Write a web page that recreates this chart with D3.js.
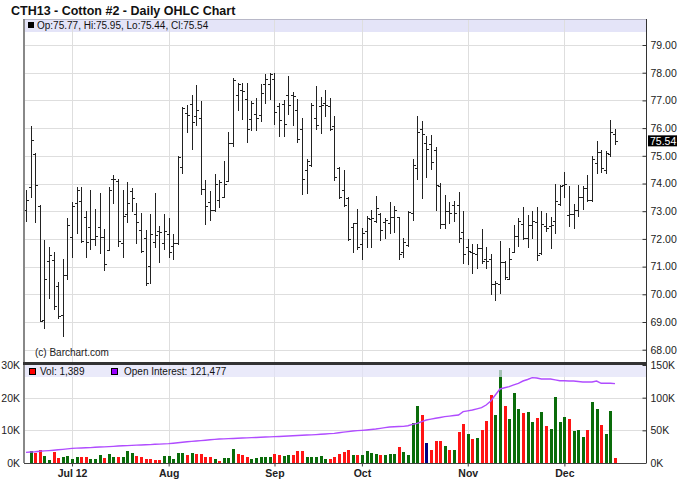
<!DOCTYPE html>
<html><head><meta charset="utf-8">
<script src="https://cdn.jsdelivr.net/npm/d3@7"></script>
<style>
html,body{margin:0;padding:0;background:#fff;}
svg{display:block;font-family:"Liberation Sans",Arial,Helvetica,sans-serif;}
</style></head><body>
<svg id="c" width="688" height="503"></svg>
<script>
// ---- data ----
const openP = [
 73.05,73.86,75.05,73.20,69.06,71.20,71.23,70.30,69.25,70.69,
 72.07,73.31,73.37,72.80,72.43,72.00,72.43,72.07,71.59,74.18,
 74.10,71.84,72.89,73.73,72.89,72.31,72.02,71.02,71.89,72.30,
 71.84,72.17,71.74,71.85,74.61,76.55,76.88,76.42,76.37,73.81,
 73.33,73.05,73.39,73.50,74.08,75.46,77.18,77.39,77.06,76.34,
 76.52,76.46,77.58,77.60,77.76,76.78,76.86,77.20,77.18,76.64,
 75.98,74.49,74.65,76.37,76.80,76.90,76.80,76.06,74.55,73.77,
 73.47,72.42,72.57,71.82,72.27,72.71,72.66,72.90,72.60,72.57,
 72.80,72.78,71.54,71.78,72.93,74.57,75.95,75.46,75.42,75.22,
 73.92,72.53,72.99,73.23,73.23,72.24,71.70,71.54,71.47,71.66,
 71.27,71.27,70.36,70.38,71.18,70.54,71.51,72.11,72.53,72.05,
 72.50,72.62,71.50,72.47,72.47,72.65,73.26,73.96,72.87,72.90,
 73.04,73.52,73.84,73.40,74.74,75.13,74.49,75.05,75.77];
const highP = [
 73.75,76.08,75.10,73.22,71.96,71.72,71.54,70.46,71.27,72.75,
 73.34,73.86,73.88,73.01,73.76,73.07,73.65,72.35,73.89,74.31,
 74.16,73.77,74.04,73.83,73.29,72.93,72.33,72.89,73.64,72.47,
 72.89,72.75,72.16,75.00,76.76,76.84,77.20,77.57,76.98,74.13,
 73.72,74.33,74.11,74.83,75.86,77.82,77.63,77.63,77.63,76.98,
 77.10,77.60,77.94,78.00,78.00,76.90,77.00,77.88,77.30,77.06,
 76.37,74.89,76.90,77.52,77.14,77.36,77.08,76.42,74.60,74.48,
 73.53,72.59,73.08,72.39,72.81,73.05,73.55,72.93,72.75,73.35,
 73.20,72.78,72.02,73.02,74.88,76.42,76.24,75.72,75.76,75.31,
 74.01,73.57,73.35,73.37,73.71,72.99,71.99,71.82,71.83,72.35,
 71.71,71.45,70.48,71.93,71.20,71.66,72.51,72.75,73.14,72.87,
 72.99,73.14,72.99,72.93,72.80,74.00,73.96,74.43,73.92,73.26,
 73.96,73.92,74.32,75.00,75.53,75.21,75.19,76.28,75.95];
const lowP = [
 72.65,73.52,72.60,69.04,68.80,69.88,69.46,69.13,68.49,70.54,
 71.35,72.23,71.90,71.33,71.63,71.78,71.48,70.87,71.59,73.28,
 71.75,71.36,72.61,73.01,71.84,71.53,70.34,70.40,71.71,71.18,
 71.63,71.36,71.29,71.80,74.37,75.86,75.23,76.10,73.63,72.54,
 72.69,73.02,73.14,73.50,74.08,75.37,76.64,76.34,75.49,75.92,
 75.92,76.25,76.90,77.04,76.16,75.73,75.71,76.52,76.12,75.49,
 73.63,73.65,74.63,75.98,75.82,76.42,75.92,74.13,73.47,73.20,
 71.96,71.54,71.63,71.28,71.72,71.69,72.62,71.96,72.02,72.23,
 72.26,71.27,71.36,71.75,72.68,74.16,73.47,74.25,74.53,73.05,
 72.39,72.41,72.59,72.63,71.90,71.12,71.10,70.78,70.94,71.14,
 70.94,70.00,69.78,70.06,70.54,70.54,71.51,71.75,71.99,71.71,
 72.05,71.24,71.45,72.29,71.66,72.23,73.23,73.52,72.47,72.41,
 72.84,73.08,73.36,73.36,74.38,74.41,74.37,75.00,75.44];
const closeP = [
 73.40,75.58,73.95,69.05,70.54,71.42,69.58,69.20,70.69,72.49,
 73.17,73.77,71.93,71.90,71.99,72.10,72.07,71.08,73.77,74.15,
 71.93,72.83,73.31,73.46,72.61,71.57,70.40,72.17,72.13,72.25,
 72.29,71.51,71.85,74.95,76.72,76.49,76.22,76.66,73.81,73.20,
 73.05,73.99,74.05,74.00,75.47,77.75,77.60,77.35,75.98,76.92,
 76.36,77.27,77.76,77.96,76.58,76.30,76.13,76.82,77.15,75.61,
 74.17,74.83,76.82,76.10,76.85,76.84,75.95,74.25,73.53,73.23,
 71.99,72.57,71.72,72.20,72.75,72.75,73.10,72.32,72.70,72.78,
 73.05,71.45,71.90,72.98,74.67,75.86,75.80,75.24,74.77,73.95,
 72.53,73.01,72.93,72.93,72.02,71.45,71.58,71.50,71.66,71.20,
 71.22,70.36,70.42,71.18,70.63,71.27,72.11,72.65,72.05,72.50,
 72.65,71.42,72.55,72.40,72.50,73.38,73.92,74.00,72.90,73.04,
 73.52,73.84,73.40,74.89,75.13,74.56,75.09,75.86,75.54];
// daily volume in thousands of contracts (first day not shown)
const volumeK = [
 null,3.74,2.93,4.04,2.02,1.00,3.43,1.41,1.72,2.22,
 1.31,1.92,1.72,1.72,1.31,1.31,2.32,1.62,2.63,1.72,
 1.72,1.72,3.74,3.13,2.02,1.72,1.31,1.31,1.00,1.00,
 2.22,2.22,1.31,3.13,3.13,2.32,3.13,2.63,2.83,1.92,
 1.92,1.31,0.61,1.52,1.52,4.34,2.63,2.32,1.92,1.21,
 1.52,1.72,1.92,1.82,2.73,2.32,2.02,2.53,2.32,3.54,
 3.74,1.92,1.92,1.72,2.02,1.31,1.31,1.92,2.83,3.43,
 4.04,2.53,2.32,2.32,3.74,3.13,2.83,2.32,2.53,2.83,
 2.83,4.95,3.33,2.53,12.1,17.5,14.8,6.06,4.04,6.77,
 6.77,5.35,4.04,4.04,9.39,11.8,8.89,7.37,7.78,10.0,
 13.0,20.7,14.8,28.4,17.5,13.6,21.3,16.4,15.4,15.7,
 12.4,13.9,15.7,11.2,10.4,20.1,12.6,14.1,13.4,9.8,
 10.0,8.0,10.0,18.7,16.4,11.5,8.8,16.0,1.389];
// day direction: 1 up, -1 down, 0 unchanged
const change = [
 1,1,-1,-1,1,1,-1,-1,1,1,
 1,1,-1,-1,1,1,1,-1,1,1,
 -1,1,1,1,-1,-1,-1,-1,-1,-1,
 1,1,1,1,1,-1,1,-1,-1,-1,
 -1,1,-1,1,1,1,-1,-1,-1,1,
 1,1,1,1,-1,-1,1,1,-1,-1,
 -1,1,1,1,1,1,-1,-1,-1,-1,
 -1,1,-1,1,1,1,1,-1,1,1,
 1,-1,1,1,1,1,-1,0,-1,-1,
 -1,1,-1,1,-1,-1,1,-1,1,-1,
 -1,-1,1,1,-1,1,1,1,-1,1,
 1,-1,1,-1,1,1,1,1,-1,1,
 1,1,-1,1,1,-1,1,1,-1];
// open interest in thousands
const openInterestK = [
 16.3,16.8,17.2,17.9,18.5,19.0,19.6,20.3,20.9,21.6,
 22.4,22.7,23.0,23.3,23.6,24.0,24.4,24.7,25.1,25.5,
 26.0,26.3,26.6,27.0,27.3,27.6,27.9,28.2,28.6,28.9,
 29.2,29.6,30.3,31.0,31.8,32.5,33.1,33.7,34.3,34.9,
 35.5,36.1,36.7,37.0,37.3,37.6,37.9,38.2,38.5,38.8,
 39.1,39.4,39.7,40.0,40.3,40.6,40.9,41.3,41.7,42.0,
 42.4,42.8,43.1,43.5,43.9,44.4,44.9,45.4,46.3,47.2,
 48.1,48.9,49.5,50.0,50.6,51.3,52.0,53.0,54.1,55.1,
 55.5,55.8,56.1,57.1,59.2,60.7,63.2,65.8,67.2,68.4,
 69.7,71.0,71.8,72.7,73.5,78.6,79.8,81.1,82.9,84.7,
 88.8,94.9,104.1,113.3,115.1,116.9,119.5,122.0,125.5,127.8,
 130.6,130.0,128.6,128.6,128.6,127.3,126.0,125.8,125.5,125.5,
 124.7,124.0,124.0,124.0,125.5,122.0,122.0,122.0,121.477];
const monthLabels = ["Jul 12","Aug","Sep","Oct","Nov","Dec"];
const monthIndex = [10,31,54,73,96,117];
const priceTicks = [68,69,70,71,72,73,74,75,76,77,78,79];
const volTicks = [0,10,20,30];
const volTickLabels = ["0K","10K","20K","30K"];
const oiTicks = [0,50,100,150];
const oiTickLabels = ["0K","50K","100K","150K"];
const titleText = "CTH13 - Cotton #2 - Daily OHLC Chart";
const lastVol = "1,389";
const lastOI = "121,477";

// ---- drawing ----
const N = closeP.length;
const svg = d3.select("#c");
const L = 24, R = 646, mainTop = 19, mainBot = 363, volTop = 365, volBot = 463;

const x = d3.scaleLinear().domain([0, N - 1]).range([26, 615]);
const y = d3.scaleLinear().domain([68, 79]).range([349.7, 45]);
const yv = d3.scaleLinear().domain([0, 30]).range([volBot, volTop]);
const yo = d3.scaleLinear().domain([0, 150]).range([volBot, volTop]);
const px = i => Math.round(x(i)) + 0.5;
const py = v => Math.round(y(v)) + 0.5;

svg.append("rect").attr("width", 688).attr("height", 503).attr("fill", "#fff");

// title
svg.append("text").attr("x", 11).attr("y", 15).attr("font-size", "12.5px")
  .attr("font-weight", "bold").attr("fill", "#111").text(titleText);

// header band of main panel
svg.append("rect").attr("x", L).attr("y", mainTop).attr("width", R - L).attr("height", 13)
  .attr("fill", "#e4e4f8");

const grid = svg.append("g").attr("stroke", "#dedede").attr("stroke-width", 1).attr("shape-rendering", "crispEdges");
grid.selectAll(".hg").data(priceTicks).join("line")
  .attr("x1", L).attr("x2", R).attr("y1", d => py(d)).attr("y2", d => py(d));
grid.selectAll(".vg").data(monthIndex).join("line")
  .attr("x1", d => px(d)).attr("x2", d => px(d)).attr("y1", mainTop).attr("y2", volBot);
grid.selectAll(".vhg").data([10, 20]).join("line")
  .attr("x1", L).attr("x2", R).attr("y1", d => Math.round(yv(d)) + 0.5).attr("y2", d => Math.round(yv(d)) + 0.5);

// OHLC bars
const bars = svg.append("g").attr("stroke", "#222").attr("stroke-width", 1).attr("shape-rendering", "crispEdges");
const idx = d3.range(N);
bars.selectAll(".hl").data(idx).join("line")
  .attr("x1", px).attr("x2", px)
  .attr("y1", i => Math.round(y(Math.max(highP[i], openP[i], closeP[i]))))
  .attr("y2", i => Math.round(y(Math.min(lowP[i], openP[i], closeP[i]))) + 1);
bars.selectAll(".op").data(idx).join("line")
  .attr("x1", i => px(i) - 2.5).attr("x2", i => px(i))
  .attr("y1", i => py(openP[i])).attr("y2", i => py(openP[i]));
bars.selectAll(".cl").data(idx).join("line")
  .attr("x1", i => px(i)).attr("x2", i => px(i) + 2.5)
  .attr("y1", i => py(closeP[i])).attr("y2", i => py(closeP[i]));

// copyright
svg.append("text").attr("x", 35).attr("y", 356).attr("font-size", "10px").attr("fill", "#222")
  .text("(c) Barchart.com");

// header legend text
svg.append("rect").attr("x", 28).attr("y", 22).attr("width", 6).attr("height", 6).attr("fill", "#000");
svg.append("text").attr("x", 37).attr("y", 29).attr("font-size", "10px").attr("fill", "#111")
  .text(`Op:${openP[N-1].toFixed(2)}, Hi:${highP[N-1].toFixed(2)}, Lo:${lowP[N-1].toFixed(2)}, Cl:${closeP[N-1].toFixed(2)}`);

// volume bars
const colorOf = c => c > 0 ? "#0a6c0a" : (c < 0 ? "#ff1414" : "#000080");
svg.append("g").attr("shape-rendering", "crispEdges").selectAll("rect")
  .data(idx.filter(i => volumeK[i] != null)).join("rect")
  .attr("x", i => Math.round(x(i)) - 1).attr("width", 3)
  .attr("y", i => yv(volumeK[i])).attr("height", i => volBot - yv(volumeK[i]))
  .attr("fill", i => colorOf(change[i]));

// open interest line
svg.append("path").datum(idx)
  .attr("d", d3.line().x(i => x(i)).y(i => yo(openInterestK[i])))
  .attr("fill", "none").attr("stroke", "#b04cff").attr("stroke-width", 1.4);

// volume legend band
svg.append("rect").attr("x", L).attr("y", volTop).attr("width", R - L).attr("height", 12)
  .attr("fill", "#e2e2f8").attr("opacity", 0.72);
svg.append("rect").attr("x", 29.5).attr("y", 368.5).attr("width", 6).attr("height", 6)
  .attr("fill", "#ff0000").attr("stroke", "#000").attr("stroke-width", 1);
svg.append("text").attr("x", 40).attr("y", 375).attr("font-size", "10px").attr("fill", "#111")
  .text("Vol: " + lastVol);
svg.append("rect").attr("x", 111.5).attr("y", 368.5).attr("width", 6).attr("height", 6)
  .attr("fill", "#9900ff").attr("stroke", "#000").attr("stroke-width", 1);
svg.append("text").attr("x", 124).attr("y", 375).attr("font-size", "10px").attr("fill", "#111")
  .text("Open Interest: " + lastOI);

// frame lines
const frame = svg.append("g").attr("shape-rendering", "crispEdges");
frame.append("line").attr("x1", L).attr("x2", R).attr("y1", mainTop + 0.5).attr("y2", mainTop + 0.5).attr("stroke", "#b8b8c8");
frame.append("line").attr("x1", L - 0.5).attr("x2", L - 0.5).attr("y1", mainTop).attr("y2", volBot).attr("stroke", "#888").attr("stroke-width", 2);
frame.append("rect").attr("x", L - 1).attr("y", mainBot - 1).attr("width", R - L + 2).attr("height", 3).attr("fill", "#333");

// right price axis
const ax = svg.append("g").attr("transform", `translate(${R + 0.5},0)`)
  .call(d3.axisRight(y).tickValues(priceTicks).tickFormat(d3.format(".2f")).tickSizeInner(-4).tickSizeOuter(0).tickPadding(4));
ax.select(".domain").attr("stroke", "#333").attr("d", `M0,${mainTop}V${volBot}`);
ax.selectAll(".tick line").attr("stroke", "#333");
ax.selectAll("text").attr("font-size", "10.5px").attr("fill", "#222").attr("font-family", null);

// last close tag
const cy = y(closeP[N - 1]);
svg.append("rect").attr("x", 648).attr("y", cy - 5.5).attr("width", 29).attr("height", 11).attr("fill", "#000");
svg.append("text").attr("x", 650).attr("y", cy + 4).attr("font-size", "10.5px").attr("fill", "#fff")
  .text(closeP[N - 1].toFixed(2));

// volume axes
const axL = svg.append("g").attr("transform", `translate(${L - 1},0)`)
  .call(d3.axisLeft(yv).tickValues(volTicks).tickFormat((d, i) => volTickLabels[i]).tickSize(0).tickPadding(3));
axL.select(".domain").remove();
axL.selectAll("text").attr("font-size", "10.5px").attr("fill", "#222").attr("font-family", null);
const axR = svg.append("g").attr("transform", `translate(${R + 0.5},0)`)
  .call(d3.axisRight(yo).tickValues(oiTicks).tickFormat((d, i) => oiTickLabels[i]).tickSizeInner(-4).tickSizeOuter(0).tickPadding(4));
axR.select(".domain").remove();
axR.selectAll(".tick line").attr("stroke", "#333");
axR.selectAll("text").attr("font-size", "10.5px").attr("fill", "#222").attr("font-family", null);

// bottom time axis
const axB = svg.append("g").attr("transform", `translate(0,${volBot + 0.5})`)
  .call(d3.axisBottom(x).tickValues(monthIndex).tickFormat((d, i) => monthLabels[i]).tickSizeInner(3).tickSizeOuter(0).tickPadding(3));
axB.select(".domain").attr("stroke", "#444").attr("d", `M${L},0H${R}`);
axB.selectAll(".tick line").attr("stroke", "#444");
axB.selectAll("text").attr("font-size", "10.5px").attr("font-weight", "bold").attr("fill", "#222").attr("font-family", null);
</script>
</body></html>
